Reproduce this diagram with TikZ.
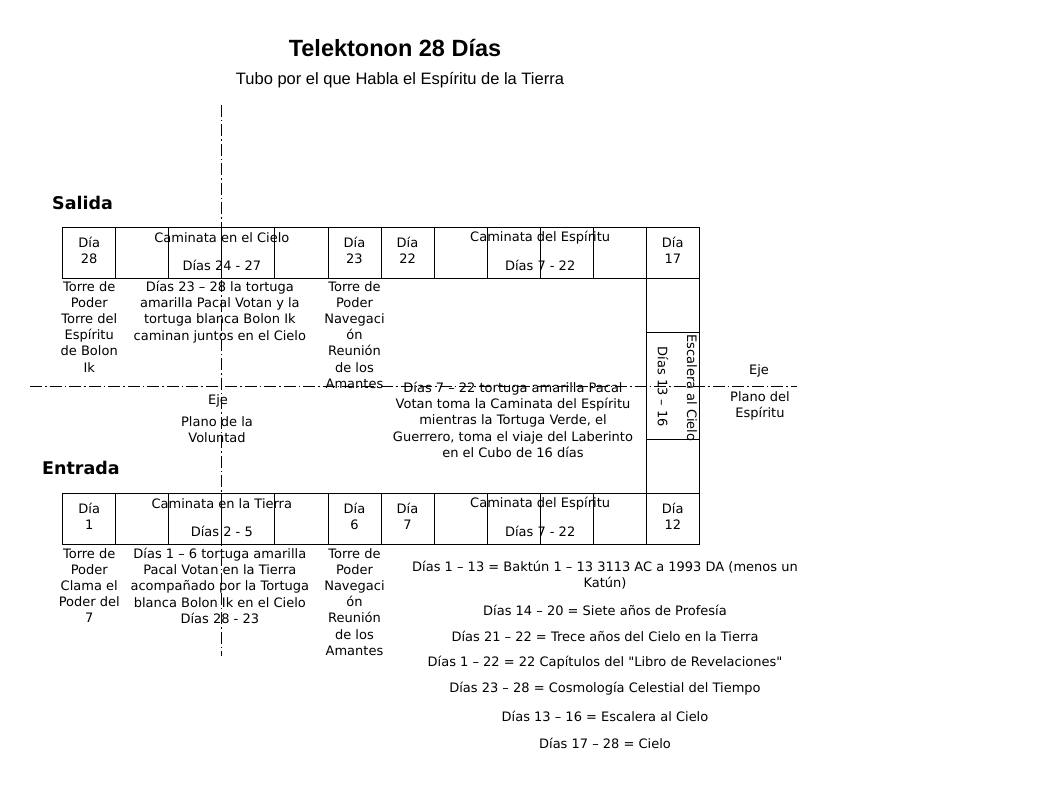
\documentclass[tikz,border=0pt]{standalone}
\usepackage{fontspec}
\setmainfont{DejaVu Sans}[Ligatures=TeXOff]
\newfontfamily\headfont{Liberation Sans}
\usetikzlibrary{calc}
\begin{document}
\begin{tikzpicture}[x=1pt,y=-1pt,
  cell/.style={draw, line width=0.9pt, minimum width=53.05pt, minimum height=51pt,
               inner sep=0pt, outer sep=0pt, anchor=north west},
  txt/.style={font=\fontsize{13}{16.2}\selectfont, align=center, inner sep=0pt},
  lst/.style={font=\fontsize{13}{16.2}\selectfont, align=center, inner sep=0pt},
  axisline/.style={line width=0.9pt, dash pattern=on 12pt off 3pt on 1.5pt off 3pt},
  sidehead/.style={font=\bfseries\fontsize{17.5}{20}\selectfont, inner sep=0pt, anchor=west}
]
\fill[white] (0,0) rectangle (1053,791);
\useasboundingbox (0,0) rectangle (1053,791);

% titles
\node[font=\headfont\bfseries\fontsize{23.5}{26}\selectfont, inner sep=0pt] (title) at (395,48) {Telektonon 28 Días};
\node[font=\headfont\fontsize{16.5}{19}\selectfont, inner sep=0pt] (subtitle) at (400,80) {Tubo por el que Habla el Espíritu de la Tierra};

\node[sidehead] (salida) at (52,203) {Salida};
\node[sidehead] (entrada) at (42,468) {Entrada};

% upper row of cells (Salida) and lower row (Entrada)
\foreach \i in {1,...,12} {
  \node[cell] (s\i) at ({62.7+(\i-1)*53.05},227) {};
  \node[cell] (e\i) at ({62.7+(\i-1)*53.05},493) {};
}
% right-hand column joining the rows
\node[cell, minimum height=54pt] (r1) at (646.3,278) {};
\node[cell, minimum height=107pt] (r2) at (646.3,332) {};
\node[cell, minimum height=54pt] (r3) at (646.3,439) {};

% axes
\coordinate (vtop) at ($(s3.north east)+(0,-122)$);
\coordinate (vbot) at ($(e3.south east)+(0,112)$);
\coordinate (hleft) at (30,386);
\coordinate (hright) at (797,386);
\draw[axisline] (vtop) -- (vbot);
\draw[axisline] (hleft) -- (hright);

% upper row texts
\node[txt, yshift=2pt] (d28) at (s1.center) {Día\\28};
\node[txt] (cielo) at ($(s3.north east)+(0,11)$) {Caminata en el Cielo};
\node[txt] (d2427) at ($(s3.south east)+(0,-13)$) {Días 24 - 27};
\node[txt, yshift=2pt] (d23) at (s6.center) {Día\\23};
\node[txt, yshift=2pt] (d22) at (s7.center) {Día\\22};
\node[txt] (espiritu) at ($(s9.north east)+(0,11)$) {Caminata del Espíritu};
\node[txt] (d722a) at ($(s9.south east)+(0,-13)$) {Días 7 - 22};
\node[txt, yshift=2pt] (d17) at (s12.center) {Día\\17};

% lower row texts
\node[txt, yshift=2pt] (d1) at (e1.center) {Día\\1};
\node[txt] (tierra) at ($(e3.north east)+(0,11)$) {Caminata en la Tierra};
\node[txt] (d25) at ($(e3.south east)+(0,-13)$) {Días 2 - 5};
\node[txt, yshift=2pt] (d6) at (e6.center) {Día\\6};
\node[txt, yshift=2pt] (d7) at (e7.center) {Día\\7};
\node[txt] (espiritub) at ($(e9.north east)+(0,11)$) {Caminata del Espíritu};
\node[txt] (d722b) at ($(e9.south east)+(0,-13)$) {Días 7 - 22};
\node[txt, yshift=2pt] (d12) at (e12.center) {Día\\12};

% stairway column
\node[txt, rotate=-90] (d1316) at (663,387) {Días 13 – 16};
\node[txt, rotate=-90] (escalera) at (692,388) {Escalera al Cielo};

% texts under the upper row
\node[txt, anchor=north] (torre1) at ($(s1.south)+(0,3)$) {Torre de\\Poder\\Torre del\\Espíritu\\de Bolon\\Ik};
\node[txt, anchor=north] (tortugas1) at ($(s3.south east)+(-2,3)$) {Días 23 – 28 la tortuga\\amarilla Pacal Votan y la\\tortuga blanca Bolon Ik\\caminan juntos en el Cielo};
\node[txt, anchor=north] (torre2) at ($(s6.south)+(0,3)$) {Torre de\\Poder\\Navegaci\\ón\\Reunión\\de los\\Amantes};

% axis labels
\node[txt] (ejeL) at (218,401) {Eje};
\node[txt, anchor=north] (voluntad) at (217,416) {Plano de la\\Voluntad};
\node[txt] (ejeR) at (759,371) {Eje};
\node[txt, anchor=north] (planoesp) at (760,391) {Plano del\\Espíritu};

% centre text
\node[txt, anchor=north] (caminata) at (513,382) {Días 7 – 22 tortuga amarilla Pacal\\Votan toma la Caminata del Espíritu\\mientras la Tortuga Verde, el\\Guerrero, toma el viaje del Laberinto\\en el Cubo de 16 días};

% texts under the lower row
\node[txt, anchor=north] (torre3) at ($(e1.south)+(0,4)$) {Torre de\\Poder\\Clama el\\Poder del\\7};
\node[txt, anchor=north] (tortugas2) at ($(e3.south east)+(-2,4)$) {Días 1 – 6 tortuga amarilla\\Pacal Votan en la Tierra\\acompañado por la Tortuga\\blanca Bolon Ik en el Cielo\\Días 28 - 23};
\node[txt, anchor=north] (torre4) at ($(e6.south)+(0,4)$) {Torre de\\Poder\\Navegaci\\ón\\Reunión\\de los\\Amantes};

% summary list
\node[lst, anchor=north] (l1) at (605,561) {Días 1 – 13 = Baktún 1 – 13 3113 AC a 1993 DA (menos un\\Katún)};
\node[lst] (l2) at (605,610) {Días 14 – 20 = Siete años de Profesía};
\node[lst] (l3) at (605,636) {Días 21 – 22 = Trece años del Cielo en la Tierra};
\node[lst] (l4) at (605,663) {Días 1 – 22 = 22 Capítulos del "Libro de Revelaciones"};
\node[lst] (l5) at (605,689) {Días 23 – 28 = Cosmología Celestial del Tiempo};
\node[lst] (l6) at (605,716) {Días 13 – 16 = Escalera al Cielo};
\node[lst] (l7) at (605,743) {Días 17 – 28 = Cielo};
\end{tikzpicture}
\end{document}
